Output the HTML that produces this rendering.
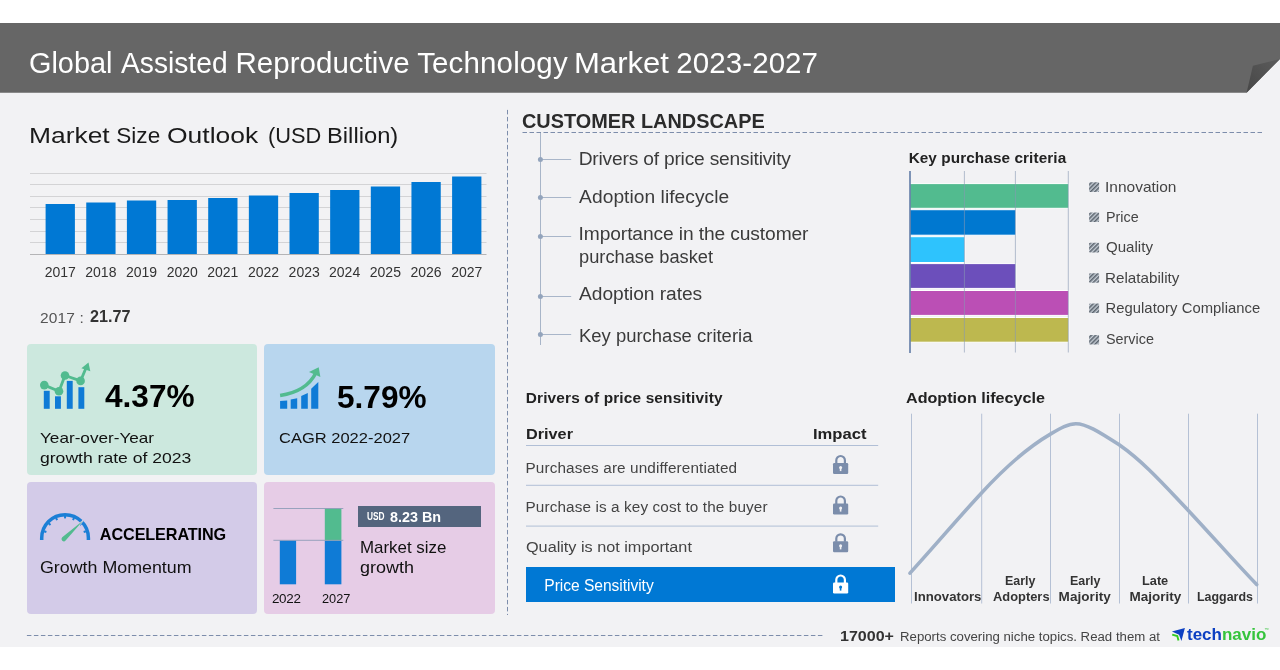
<!DOCTYPE html>
<html lang="en">
<head>
<meta charset="utf-8">
<title>Global Assisted Reproductive Technology Market 2023-2027</title>
<style>
html,body{margin:0;padding:0;background:#fff;}
#page{position:relative;width:1280px;height:670px;overflow:hidden;background:#fff;font-family:"Liberation Sans",sans-serif;}
#bg{position:absolute;left:0;top:23px;width:1280px;height:623.6px;background:#f2f2f4;}
.t{position:absolute;transform-origin:0 50%;white-space:pre;line-height:1;font-family:"Liberation Sans",sans-serif;}
.card{position:absolute;border-radius:4px;}
#gfx{position:absolute;left:0;top:0;width:1280px;height:670px;}
#pricebar{position:absolute;left:526px;top:567.3px;width:369px;height:34.4px;background:#0078d4;}
#usdtag{position:absolute;left:358.2px;top:506.2px;width:122.8px;height:20.5px;background:#54657e;}

</style>
</head>
<body>
<div id="page">
<div id="bg"></div>
<div class="card" id="card1" style="left:27px;top:344px;width:230px;height:131.4px;background:#cce8de"></div>
<div class="card" id="card2" style="left:264px;top:344px;width:231px;height:131.4px;background:#b8d6ee"></div>
<div class="card" id="card3" style="left:27px;top:482px;width:230px;height:131.5px;background:#d3cbe8"></div>
<div class="card" id="card4" style="left:264px;top:482px;width:231px;height:131.5px;background:#e6cce6"></div>
<div id="usdtag"></div>
<div id="pricebar"></div>
<svg id="gfx" width="1280" height="670" viewBox="0 0 1280 670">
<defs><linearGradient id="foldg" x1="0" y1="1" x2="1" y2="0"><stop offset="0" stop-color="#474747"/><stop offset="1" stop-color="#5c5c5c"/></linearGradient><pattern id="hatch" width="3" height="3" patternUnits="userSpaceOnUse" patternTransform="rotate(-45)"><rect width="3" height="3" fill="#c9d0d8"/><rect width="3" height="1.6" fill="#5d6670"/></pattern></defs>
<polygon points="0,23 1280,23 1280,58.9 1246.6,92.8 0,92.8" fill="#666666"/>
<polygon points="1246.6,92.8 1252.9,65.7 1280,58.9" fill="url(#foldg)"/>
<line x1="30" x2="486.5" y1="173.5" y2="173.5" stroke="#d3d3d5" stroke-width="1"/>
<line x1="30" x2="486.5" y1="184.5" y2="184.5" stroke="#d3d3d5" stroke-width="1"/>
<line x1="30" x2="486.5" y1="196.5" y2="196.5" stroke="#d3d3d5" stroke-width="1"/>
<line x1="30" x2="486.5" y1="207.5" y2="207.5" stroke="#d3d3d5" stroke-width="1"/>
<line x1="30" x2="486.5" y1="219.5" y2="219.5" stroke="#d3d3d5" stroke-width="1"/>
<line x1="30" x2="486.5" y1="231.5" y2="231.5" stroke="#d3d3d5" stroke-width="1"/>
<line x1="30" x2="486.5" y1="242.5" y2="242.5" stroke="#d3d3d5" stroke-width="1"/>
<line x1="30" x2="486.5" y1="254.5" y2="254.5" stroke="#b4b4b6" stroke-width="1"/>
<rect x="45.60" y="204" width="29.3" height="50.00" fill="#0078d4"/>
<rect x="86.25" y="202.5" width="29.3" height="51.50" fill="#0078d4"/>
<rect x="126.90" y="200.5" width="29.3" height="53.50" fill="#0078d4"/>
<rect x="167.55" y="200" width="29.3" height="54.00" fill="#0078d4"/>
<rect x="208.20" y="198" width="29.3" height="56.00" fill="#0078d4"/>
<rect x="248.85" y="195.5" width="29.3" height="58.50" fill="#0078d4"/>
<rect x="289.50" y="193" width="29.3" height="61.00" fill="#0078d4"/>
<rect x="330.15" y="190" width="29.3" height="64.00" fill="#0078d4"/>
<rect x="370.80" y="186.5" width="29.3" height="67.50" fill="#0078d4"/>
<rect x="411.45" y="182" width="29.3" height="72.00" fill="#0078d4"/>
<rect x="452.10" y="176.5" width="29.3" height="77.50" fill="#0078d4"/>
<line x1="507.5" x2="507.5" y1="109.9" y2="615" stroke="#7d8dab" stroke-width="1" stroke-dasharray="4.5,2.5"/>
<line x1="522.5" x2="1262" y1="132.5" y2="132.5" stroke="#7d8dab" stroke-width="1" stroke-dasharray="4.5,2.5"/>
<line x1="26.9" x2="823" y1="635.5" y2="635.5" stroke="#7d8dab" stroke-width="1" stroke-dasharray="4.5,2.5"/>
<line x1="540.5" x2="540.5" y1="133" y2="345" stroke="#a8b5c8" stroke-width="1"/>
<line x1="540.4" x2="571.2" y1="159.5" y2="159.5" stroke="#a9b6c9" stroke-width="1"/>
<circle cx="540.4" cy="159.5" r="2.5" fill="#93a4bc"/>
<line x1="540.4" x2="571.2" y1="197.5" y2="197.5" stroke="#a9b6c9" stroke-width="1"/>
<circle cx="540.4" cy="197.5" r="2.5" fill="#93a4bc"/>
<line x1="540.4" x2="571.2" y1="236.5" y2="236.5" stroke="#a9b6c9" stroke-width="1"/>
<circle cx="540.4" cy="236.5" r="2.5" fill="#93a4bc"/>
<line x1="540.4" x2="571.2" y1="296.5" y2="296.5" stroke="#a9b6c9" stroke-width="1"/>
<circle cx="540.4" cy="296.5" r="2.5" fill="#93a4bc"/>
<line x1="540.4" x2="571.2" y1="334.5" y2="334.5" stroke="#a9b6c9" stroke-width="1"/>
<circle cx="540.4" cy="334.5" r="2.5" fill="#93a4bc"/>
<rect x="909.5" y="183.60" width="159.30" height="24.70" fill="#52bb8f" stroke="#ffffff" stroke-width="1"/>
<rect x="909.5" y="209.70" width="106.40" height="25.50" fill="#0078d0" stroke="#ffffff" stroke-width="1"/>
<rect x="909.5" y="236.70" width="55.40" height="25.80" fill="#2ec3fd" stroke="#ffffff" stroke-width="1"/>
<rect x="909.5" y="263.60" width="106.40" height="24.80" fill="#6c4fbb" stroke="#ffffff" stroke-width="1"/>
<rect x="909.5" y="290.50" width="159.30" height="24.90" fill="#bb4fb5" stroke="#ffffff" stroke-width="1"/>
<rect x="909.5" y="317.50" width="159.30" height="24.70" fill="#bdb84f" stroke="#ffffff" stroke-width="1"/>
<line x1="964.4" x2="964.4" y1="171" y2="352.5" stroke="#8797b3" stroke-opacity="0.6" stroke-width="1"/>
<line x1="1015.4" x2="1015.4" y1="171" y2="352.5" stroke="#8797b3" stroke-opacity="0.6" stroke-width="1"/>
<line x1="1068.3" x2="1068.3" y1="171" y2="352.5" stroke="#8797b3" stroke-opacity="0.6" stroke-width="1"/>
<line x1="910" x2="910" y1="171" y2="353" stroke="#6a83ab" stroke-width="1.7"/>
<rect x="1089.1" y="182.3" width="10" height="9.6" rx="1" fill="url(#hatch)"/>
<rect x="1089.1" y="212.4" width="10" height="9.6" rx="1" fill="url(#hatch)"/>
<rect x="1089.1" y="242.8" width="10" height="9.6" rx="1" fill="url(#hatch)"/>
<rect x="1089.1" y="273.2" width="10" height="9.6" rx="1" fill="url(#hatch)"/>
<rect x="1089.1" y="303.5" width="10" height="9.6" rx="1" fill="url(#hatch)"/>
<rect x="1089.1" y="335.0" width="10" height="9.6" rx="1" fill="url(#hatch)"/>
<line x1="526" x2="878.2" y1="445.5" y2="445.5" stroke="#b1bfd6" stroke-width="1"/>
<line x1="526" x2="878.2" y1="485.3" y2="485.3" stroke="#b1bfd6" stroke-width="1"/>
<line x1="526" x2="878.2" y1="526.1" y2="526.1" stroke="#b1bfd6" stroke-width="1"/>
<g transform="translate(840.6,464.5)"><path d="M-4.3,-1 V-4.2 A4.3,4.3 0 0 1 4.3,-4.2 V-1" fill="none" stroke="#7b8dab" stroke-width="2.2"/><rect x="-7.6" y="-1.5" width="15.2" height="11" rx="1.2" fill="#7b8dab"/><circle cx="0" cy="3" r="1.5" fill="#f2f2f4"/><rect x="-0.8" y="3" width="1.6" height="3.6" fill="#f2f2f4"/></g>
<g transform="translate(840.6,505)"><path d="M-4.3,-1 V-4.2 A4.3,4.3 0 0 1 4.3,-4.2 V-1" fill="none" stroke="#7b8dab" stroke-width="2.2"/><rect x="-7.6" y="-1.5" width="15.2" height="11" rx="1.2" fill="#7b8dab"/><circle cx="0" cy="3" r="1.5" fill="#f2f2f4"/><rect x="-0.8" y="3" width="1.6" height="3.6" fill="#f2f2f4"/></g>
<g transform="translate(840.6,542.8)"><path d="M-4.3,-1 V-4.2 A4.3,4.3 0 0 1 4.3,-4.2 V-1" fill="none" stroke="#7b8dab" stroke-width="2.2"/><rect x="-7.6" y="-1.5" width="15.2" height="11" rx="1.2" fill="#7b8dab"/><circle cx="0" cy="3" r="1.5" fill="#f2f2f4"/><rect x="-0.8" y="3" width="1.6" height="3.6" fill="#f2f2f4"/></g>
<g transform="translate(840.6,584)"><path d="M-4.3,-1 V-4.2 A4.3,4.3 0 0 1 4.3,-4.2 V-1" fill="none" stroke="#ffffff" stroke-width="2.2"/><rect x="-7.6" y="-1.5" width="15.2" height="11" rx="1.2" fill="#ffffff"/><circle cx="0" cy="3" r="1.5" fill="#0078d4"/><rect x="-0.8" y="3" width="1.6" height="3.6" fill="#0078d4"/></g>
<line x1="911.5" x2="911.5" y1="413.7" y2="603.5" stroke="#b5c1d5" stroke-width="1"/>
<line x1="981.7" x2="981.7" y1="413.7" y2="603.5" stroke="#b5c1d5" stroke-width="1"/>
<line x1="1050.5" x2="1050.5" y1="413.7" y2="603.5" stroke="#b5c1d5" stroke-width="1"/>
<line x1="1119.5" x2="1119.5" y1="413.7" y2="603.5" stroke="#b5c1d5" stroke-width="1"/>
<line x1="1188.5" x2="1188.5" y1="413.7" y2="603.5" stroke="#b5c1d5" stroke-width="1"/>
<line x1="1257.5" x2="1257.5" y1="413.7" y2="603.5" stroke="#b5c1d5" stroke-width="1"/>
<path d="M910,573.1 C940,540 960,516 981.3,493.2 C1010,462 1030,446 1050.4,434.1 C1060,428.5 1068,423.7 1075.9,423.7 C1086,423.7 1098,431 1119.2,444.8 C1145,463 1165,486 1188.3,510.4 C1215,539 1235,562 1256.7,584.5" fill="none" stroke="#9fb0c7" stroke-width="3.6" stroke-linecap="round"/>
<rect x="43.8" y="390.8" width="5.9" height="18.0" fill="#0f7bd6"/>
<rect x="55" y="396.3" width="5.9" height="12.5" fill="#0f7bd6"/>
<rect x="66.8" y="380.9" width="5.9" height="27.9" fill="#0f7bd6"/>
<rect x="78.4" y="387.2" width="5.9" height="21.6" fill="#0f7bd6"/>
<polyline points="44.3,385.1 59,391.3 65,375.5 80.6,380.9 86.4,367" fill="none" stroke="#52bb8f" stroke-width="2.8" stroke-linejoin="round"/>
<circle cx="44.3" cy="385.1" r="4.3" fill="#52bb8f"/>
<circle cx="59" cy="391.3" r="4.3" fill="#52bb8f"/>
<circle cx="65" cy="375.5" r="4.3" fill="#52bb8f"/>
<circle cx="80.6" cy="380.9" r="4.3" fill="#52bb8f"/>
<polygon points="88.5,362.4 90.3,371.2 81.4,368.3" fill="#52bb8f"/>
<polygon points="280.1,401.1 287.2,400.6 287.2,408.7 280.1,408.7" fill="#0f7bd6"/>
<polygon points="290.7,399.4 297.2,398.3 297.2,408.7 290.7,408.7" fill="#0f7bd6"/>
<polygon points="301.2,396.1 307.8,393 307.8,408.7 301.2,408.7" fill="#0f7bd6"/>
<polygon points="311.2,388.8 318.3,382 318.3,408.7 311.2,408.7" fill="#0f7bd6"/>
<path d="M280.1,395.4 C297,393 309.5,385.5 315.8,373" fill="none" stroke="#52bb8f" stroke-width="3.5"/>
<polygon points="309,371.9 318.7,367.2 320.4,377" fill="#52bb8f"/>
<path d="M41.7,540 V538 A23.35,23.35 0 0 1 88.4,538 V540" fill="none" stroke="#1b7fd6" stroke-width="3.5"/>
<line x1="44.13" y1="531.20" x2="46.41" y2="531.94" stroke="#1b7fd6" stroke-width="2"/>
<line x1="48.70" y1="523.28" x2="50.48" y2="524.89" stroke="#1b7fd6" stroke-width="2"/>
<line x1="56.10" y1="517.90" x2="57.08" y2="520.09" stroke="#1b7fd6" stroke-width="2"/>
<line x1="65.05" y1="516.00" x2="65.05" y2="518.40" stroke="#1b7fd6" stroke-width="2"/>
<line x1="74.00" y1="517.90" x2="73.02" y2="520.09" stroke="#1b7fd6" stroke-width="2"/>
<line x1="81.40" y1="523.28" x2="79.62" y2="524.89" stroke="#1b7fd6" stroke-width="2"/>
<line x1="85.97" y1="531.20" x2="83.69" y2="531.94" stroke="#1b7fd6" stroke-width="2"/>
<path d="M62.2,537.3 L83.2,520.5 L65.6,540.6 A2.3,2.3 0 0 1 62.2,537.3 Z" fill="#52bb8f" stroke="#d3cbe8" stroke-width="1.3" paint-order="stroke"/>
<rect x="279.8" y="540.5" width="16.3" height="43.8" fill="#0f7bd6"/>
<rect x="324.8" y="540.5" width="16.6" height="43.8" fill="#0f7bd6"/>
<rect x="324.8" y="508.5" width="16.6" height="32" fill="#52bb8f"/>
<line x1="273.4" x2="343.3" y1="508.5" y2="508.5" stroke="#8e9db8" stroke-width="0.9"/>
<line x1="273.4" x2="343.3" y1="540.3" y2="540.3" stroke="#8e9db8" stroke-width="0.9"/>
<polygon points="1171.9,631.4 1184.9,628 1181.4,640.9 1179.1,634.7" fill="#0d40c2"/>
<polyline points="1172.2,634.7 1177.3,636.1 1178.5,640.5" fill="none" stroke="#33cc22" stroke-width="1.9"/>
</svg>
<div id="texts">
<div class="t" id="t0" style="left:29.44px;top:46px;font-size:29.5px;line-height:33px;color:#fff;transform:scaleX(0.9788);">Global</div>
<div class="t" id="t1" style="left:121.14px;top:46px;font-size:29.5px;line-height:33px;color:#fff;transform:scaleX(0.9558);">Assisted</div>
<div class="t" id="t2" style="left:235.50px;top:46px;font-size:29.5px;line-height:33px;color:#fff;letter-spacing:0.027px;">Reproductive</div>
<div class="t" id="t3" style="left:417.20px;top:46px;font-size:29.5px;line-height:33px;color:#fff;letter-spacing:0.136px;">Technology</div>
<div class="t" id="t4" style="left:574.14px;top:46px;font-size:29.5px;line-height:33px;color:#fff;transform:scaleX(1.0526);">Market</div>
<div class="t" id="t5" style="left:676.28px;top:46px;font-size:29.5px;line-height:33px;color:#fff;letter-spacing:0.084px;">2023-2027</div>
<div class="t" id="t6" style="left:29.25px;top:123px;font-size:22.6px;line-height:25px;color:#1a1a1a;transform:scaleX(1.1680);">Market</div>
<div class="t" id="t7" style="left:116.24px;top:123px;font-size:22.6px;line-height:25px;color:#1a1a1a;letter-spacing:0.013px;">Size</div>
<div class="t" id="t8" style="left:166.54px;top:123px;font-size:22.6px;line-height:25px;color:#1a1a1a;transform:scaleX(1.1709);">Outlook</div>
<div class="t" id="t9" style="left:267.53px;top:123px;font-size:22.6px;line-height:25px;color:#1a1a1a;transform:scaleX(0.9647);">(USD</div>
<div class="t" id="t10" style="left:326.69px;top:123px;font-size:22.6px;line-height:25px;color:#1a1a1a;transform:scaleX(1.0512);">Billion)</div>
<div class="t" id="t11" style="left:44.73px;top:264px;font-size:14px;line-height:16px;color:#333;">2017</div>
<div class="t" id="t12" style="left:85.30px;top:264px;font-size:14px;line-height:16px;color:#333;">2018</div>
<div class="t" id="t13" style="left:126.01px;top:264px;font-size:14px;line-height:16px;color:#333;">2019</div>
<div class="t" id="t14" style="left:166.65px;top:264px;font-size:14px;line-height:16px;color:#333;">2020</div>
<div class="t" id="t15" style="left:207.27px;top:264px;font-size:14px;line-height:16px;color:#333;">2021</div>
<div class="t" id="t16" style="left:247.93px;top:264px;font-size:14px;line-height:16px;color:#333;">2022</div>
<div class="t" id="t17" style="left:288.60px;top:264px;font-size:14px;line-height:16px;color:#333;">2023</div>
<div class="t" id="t18" style="left:329.06px;top:264px;font-size:14px;line-height:16px;color:#333;">2024</div>
<div class="t" id="t19" style="left:369.79px;top:264px;font-size:14px;line-height:16px;color:#333;">2025</div>
<div class="t" id="t20" style="left:410.53px;top:264px;font-size:14px;line-height:16px;color:#333;">2026</div>
<div class="t" id="t21" style="left:451.13px;top:264px;font-size:14px;line-height:16px;color:#333;">2027</div>
<div class="t" id="t22" style="left:39.97px;top:309px;font-size:15.5px;line-height:17px;color:#555;letter-spacing:0.139px;">2017 :</div>
<div class="t" id="t23" style="left:90.31px;top:308px;font-size:15.8px;line-height:17px;color:#333;font-weight:700;transform:scaleX(1.0247);">21.77</div>
<div class="t" id="t24" style="left:104.92px;top:379px;font-size:31px;line-height:35px;color:#000;font-weight:700;transform:scaleX(1.0192);">4.37%</div>
<div class="t" id="t25" style="left:40.00px;top:429px;font-size:15px;line-height:17px;color:#111;transform:scaleX(1.1433);">Year-over-Year</div>
<div class="t" id="t26" style="left:39.81px;top:449px;font-size:15px;line-height:17px;color:#111;transform:scaleX(1.1705);">growth rate of 2023</div>
<div class="t" id="t27" style="left:336.64px;top:380px;font-size:31px;line-height:35px;color:#000;font-weight:700;transform:scaleX(1.0189);">5.79%</div>
<div class="t" id="t28" style="left:279.38px;top:429px;font-size:15px;line-height:17px;color:#111;transform:scaleX(1.1000);">CAGR 2022-2027</div>
<div class="t" id="t29" style="left:99.87px;top:525px;font-size:16.2px;line-height:18px;color:#000;font-weight:700;letter-spacing:-0.099px;">ACCELERATING</div>
<div class="t" id="t30" style="left:39.50px;top:559px;font-size:15.7px;line-height:17px;color:#111;transform:scaleX(1.1364);">Growth Momentum</div>
<div class="t" id="t31" style="left:271.89px;top:591px;font-size:13.4px;line-height:15px;color:#111;letter-spacing:-0.226px;">2022</div>
<div class="t" id="t32" style="left:321.98px;top:591px;font-size:13.4px;line-height:15px;color:#111;transform:scaleX(0.9552);">2027</div>
<div class="t" id="t33" style="left:367.32px;top:510px;font-size:11px;line-height:12px;color:#fff;font-weight:700;transform:scaleX(0.7556);">USD</div>
<div class="t" id="t34" style="left:390.03px;top:508px;font-size:15.4px;line-height:17px;color:#fff;font-weight:700;transform:scaleX(0.9326);">8.23 Bn</div>
<div class="t" id="t35" style="left:359.77px;top:539px;font-size:15.7px;line-height:17px;color:#111;transform:scaleX(1.0771);">Market size</div>
<div class="t" id="t36" style="left:360.38px;top:559px;font-size:15.7px;line-height:17px;color:#111;transform:scaleX(1.1445);">growth</div>
<div class="t" id="t37" style="left:521.97px;top:109px;font-size:20.7px;line-height:23px;color:#2b2b2b;font-weight:700;transform:scaleX(0.9612);">CUSTOMER LANDSCAPE</div>
<div class="t" id="t38" style="left:578.66px;top:148px;font-size:19.2px;line-height:21px;color:#3b3b3b;letter-spacing:-0.195px;">Drivers of price sensitivity</div>
<div class="t" id="t39" style="left:579.12px;top:186px;font-size:19.2px;line-height:21px;color:#3b3b3b;letter-spacing:0.047px;">Adoption lifecycle</div>
<div class="t" id="t40" style="left:578.61px;top:223px;font-size:19.2px;line-height:21px;color:#3b3b3b;letter-spacing:-0.105px;">Importance in the customer</div>
<div class="t" id="t41" style="left:579.27px;top:246px;font-size:19.2px;line-height:21px;color:#3b3b3b;transform:scaleX(0.9521);">purchase basket</div>
<div class="t" id="t42" style="left:579.12px;top:283px;font-size:19.2px;line-height:21px;color:#3b3b3b;letter-spacing:-0.052px;">Adoption rates</div>
<div class="t" id="t43" style="left:578.93px;top:325px;font-size:19.2px;line-height:21px;color:#3b3b3b;transform:scaleX(0.9621);">Key purchase criteria</div>
<div class="t" id="t44" style="left:908.63px;top:149px;font-size:15.3px;line-height:17px;color:#222;font-weight:700;letter-spacing:0.097px;">Key purchase criteria</div>
<div class="t" id="t45" style="left:1105.02px;top:179px;font-size:14.8px;line-height:16px;color:#444;transform:scaleX(1.0466);">Innovation</div>
<div class="t" id="t46" style="left:1105.73px;top:209px;font-size:14.8px;line-height:16px;color:#444;transform:scaleX(0.9678);">Price</div>
<div class="t" id="t47" style="left:1105.99px;top:239px;font-size:14.8px;line-height:16px;color:#444;transform:scaleX(1.0194);">Quality</div>
<div class="t" id="t48" style="left:1105.27px;top:270px;font-size:14.8px;line-height:16px;color:#444;transform:scaleX(1.0286);">Relatability</div>
<div class="t" id="t49" style="left:1105.44px;top:300px;font-size:14.8px;line-height:16px;color:#444;letter-spacing:0.051px;">Regulatory Compliance</div>
<div class="t" id="t50" style="left:1106.02px;top:331px;font-size:14.8px;line-height:16px;color:#444;transform:scaleX(0.9709);">Service</div>
<div class="t" id="t51" style="left:525.78px;top:389px;font-size:15.4px;line-height:17px;color:#222;font-weight:700;letter-spacing:0.158px;">Drivers of price sensitivity</div>
<div class="t" id="t52" style="left:525.75px;top:425px;font-size:15.4px;line-height:17px;color:#222;font-weight:700;transform:scaleX(1.0556);">Driver</div>
<div class="t" id="t53" style="left:812.88px;top:425px;font-size:15.4px;line-height:17px;color:#222;font-weight:700;transform:scaleX(1.0786);">Impact</div>
<div class="t" id="t54" style="left:525.56px;top:459px;font-size:15.3px;line-height:17px;color:#444;letter-spacing:0.119px;">Purchases are undifferentiated</div>
<div class="t" id="t55" style="left:525.56px;top:498px;font-size:15.3px;line-height:17px;color:#444;letter-spacing:0.115px;">Purchase is a key cost to the buyer</div>
<div class="t" id="t56" style="left:526.19px;top:538px;font-size:15.3px;line-height:17px;color:#444;transform:scaleX(1.0604);">Quality is not important</div>
<div class="t" id="t57" style="left:544.34px;top:577px;font-size:15.6px;line-height:17px;color:#fff;letter-spacing:-0.044px;">Price Sensitivity</div>
<div class="t" id="t58" style="left:905.53px;top:389px;font-size:15.4px;line-height:17px;color:#222;font-weight:700;transform:scaleX(1.0482);">Adoption lifecycle</div>
<div class="t" id="t59" style="left:913.88px;top:589px;font-size:13.5px;line-height:15px;color:#333;font-weight:700;transform:scaleX(0.9770);">Innovators</div>
<div class="t" id="t60" style="left:1005.34px;top:573px;font-size:13.5px;line-height:15px;color:#333;font-weight:700;transform:scaleX(0.9213);">Early</div>
<div class="t" id="t61" style="left:993.20px;top:589px;font-size:13.5px;line-height:15px;color:#333;font-weight:700;transform:scaleX(0.9543);">Adopters</div>
<div class="t" id="t62" style="left:1069.59px;top:573px;font-size:13.5px;line-height:15px;color:#333;font-weight:700;transform:scaleX(0.9213);">Early</div>
<div class="t" id="t63" style="left:1058.62px;top:589px;font-size:13.5px;line-height:15px;color:#333;font-weight:700;letter-spacing:0.066px;">Majority</div>
<div class="t" id="t64" style="left:1142.27px;top:573px;font-size:13.5px;line-height:15px;color:#333;font-weight:700;transform:scaleX(0.9444);">Late</div>
<div class="t" id="t65" style="left:1129.47px;top:589px;font-size:13.5px;line-height:15px;color:#333;font-weight:700;letter-spacing:0.020px;">Majority</div>
<div class="t" id="t66" style="left:1197.38px;top:589px;font-size:13.5px;line-height:15px;color:#333;font-weight:700;transform:scaleX(0.9198);">Laggards</div>
<div class="t" id="t67" style="left:840.38px;top:628px;font-size:14.2px;line-height:16px;color:#333;font-weight:700;transform:scaleX(1.1309);">17000+</div>
<div class="t" id="t68" style="left:900.00px;top:630px;font-size:12.5px;line-height:14px;color:#444;transform:scaleX(1.0568);">Reports covering niche topics. Read them at</div>
<div class="t" id="t69" style="left:1187.40px;top:625px;font-size:16.5px;line-height:18px;color:#0d40c2;font-weight:700;transform:scaleX(1.0296);"><span style="color:#0d40c2">tech</span><span style="color:#35c43c">navio</span></div>
<div class="t" id="t70" style="left:1264.20px;top:627px;font-size:4.5px;line-height:5px;color:#35c43c;">™</div>
</div>
</div>
</body>
</html>
